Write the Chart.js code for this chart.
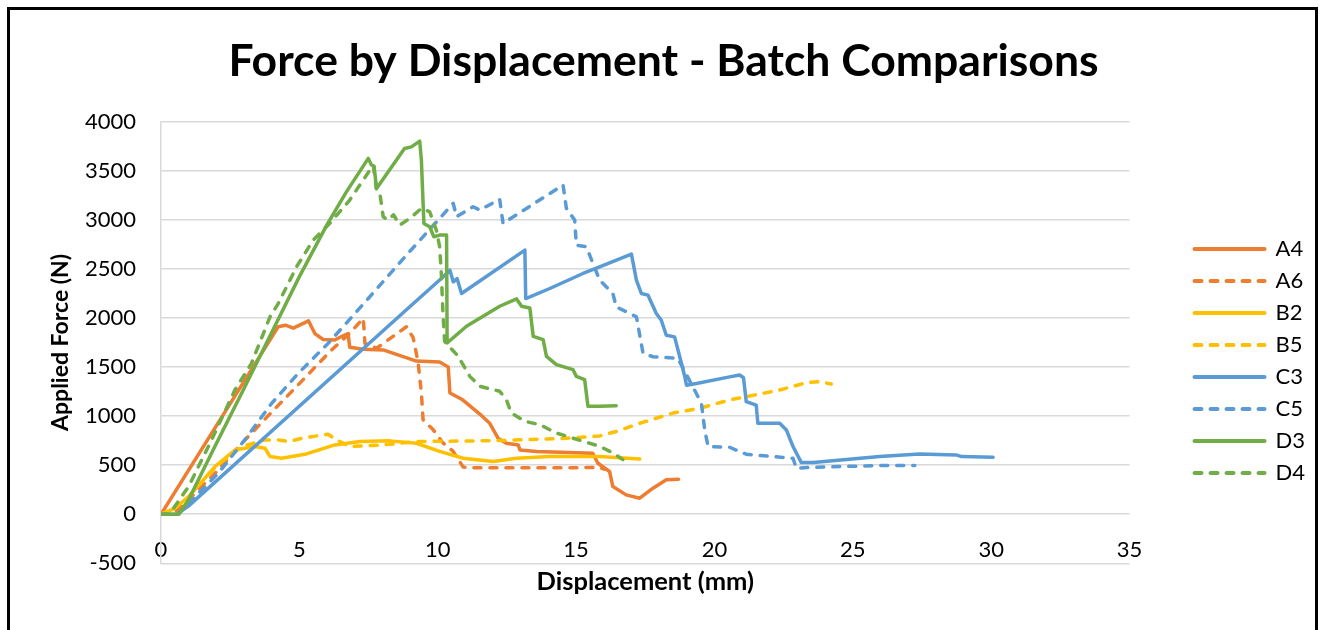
<!DOCTYPE html>
<html>
<head>
<meta charset="utf-8">
<title>Force by Displacement - Batch Comparisons</title>
<script src="https://cdn.jsdelivr.net/npm/chart.js@4.4.1/dist/chart.umd.min.js"></script>
<style>
  html, body { margin: 0; padding: 0; background: #fff; overflow: hidden; }
  #frame { position: absolute; left: 7px; top: 7px; width: 1305px; height: 700px; border: 3px solid #000; }
  #wrap { position: absolute; left: 0; top: 0; width: 1324px; height: 630px; }
</style>
</head>
<body>
<div id="frame"></div>
<div id="wrap"><canvas id="chart" width="1324" height="630"></canvas></div>
<script>
const seriesNames = ["A4", "A6", "B2", "B5", "C3", "C5", "D3", "D4"];
const seriesColors = ["#ED7D31", "#ED7D31", "#FFC000", "#FFC000", "#5B9BD5", "#5B9BD5", "#70AD47", "#70AD47"];
const seriesDashed = [false, true, false, true, false, true, false, true];
const xTicks = [0, 5, 10, 15, 20, 25, 30, 35];
const yTicks = [-500, 0, 500, 1000, 1500, 2000, 2500, 3000, 3500, 4000];

// displacement (mm), force (N)
const a4 = [[0,0],[4.24,1910],[4.5,1925],[4.78,1895],[5.33,1970],[5.56,1840],[5.86,1780],[6.28,1775],[6.52,1810],[6.76,1840],[6.82,1700],[7.31,1680],[8.03,1673],[8.75,1605],[9.23,1560],[10.07,1550],[10.38,1500],[10.44,1235],[10.9,1165],[11.52,1020],[11.88,926],[12.18,774],[12.48,723],[12.91,706],[12.97,655],[13.57,638],[15.6,621],[15.79,519],[16.21,435],[16.33,282],[16.81,197],[17.3,163],[17.78,265],[18.26,350],[18.7,357]];
const a6 = [[0,0],[0.5,20],[1,150],[2,430],[2.97,737],[4,1040],[5,1330],[6.16,1672],[6.82,1843],[7.31,1995],[7.37,1740],[7.79,1690],[8.87,1910],[9.11,1800],[9.29,1550],[9.41,1235],[9.47,963],[9.83,862],[10.19,726],[10.56,640],[10.92,480],[11.4,472],[15.85,475],[16.05,458]];
const b2 = [[0,0],[0.5,60],[1,180],[1.95,484],[2.67,654],[3.39,689],[3.76,672],[3.94,587],[4.36,570],[5.2,610],[6.28,706],[7.19,740],[8.27,747],[9.23,723],[10.07,640],[10.92,570],[12.0,536],[12.85,570],[14.05,587],[15.85,587],[17.3,563]];
const b5 = [[0,0],[0.5,60],[1,180],[2,490],[2.92,689],[3.76,757],[4.24,757],[4.6,740],[5.2,780],[6.04,815],[6.34,757],[6.82,689],[8.03,706],[9.23,740],[12.24,750],[14.65,774],[15.85,797],[16.45,842],[17.3,926],[18.5,1030],[19.47,1079],[20.55,1164],[21.15,1197],[22.36,1265],[23.33,1340],[23.8,1350],[24.22,1326]];
const c3 = [[0,0],[0.57,0],[1,85],[8.99,2113],[10.2,2418],[10.44,2486],[10.56,2367],[10.7,2400],[10.86,2248],[13.15,2690],[13.18,2197],[14.05,2299],[15.25,2452],[15.85,2520],[17.0,2649],[17.18,2384],[17.36,2248],[17.6,2231],[17.9,2044],[18.08,1976],[18.26,1823],[18.56,1806],[18.81,1535],[18.93,1399],[18.99,1314],[19.35,1331],[20.55,1399],[20.91,1418],[21.05,1390],[21.15,1146],[21.51,1112],[21.57,926],[22.36,926],[22.6,858],[22.84,689],[23.14,526],[23.57,526],[25.97,587],[27.41,614],[28.74,604],[28.93,587],[30.07,580]];
const c5 = [[0,0],[0.6,0],[1,110],[2.07,417],[3.03,758],[4,1130],[4.96,1435],[6.04,1740],[7.5,2200],[9,2680],[10.56,3166],[10.68,3030],[11.28,3132],[11.52,3098],[12.24,3207],[12.36,2962],[14.53,3353],[14.65,3115],[14.95,2996],[15.01,2741],[15.37,2724],[15.85,2385],[16.33,2248],[16.45,2113],[17.18,2011],[17.42,1638],[17.78,1604],[18.68,1587],[19.28,1265],[19.53,1129],[19.65,858],[19.77,689],[20.55,682],[20.91,638],[21.15,611],[22.84,570],[22.96,468],[23.57,478],[25.97,496],[27.24,496]];
const d3 = [[0,0],[0.65,0],[1,150],[2,720],[3,1280],[4,1850],[5,2420],[6,2950],[6.7,3283],[7.49,3624],[7.6,3560],[7.7,3545],[7.79,3318],[8.8,3725],[9.05,3742],[9.35,3800],[9.41,3607],[9.5,2962],[9.71,2928],[9.86,2826],[10.07,2843],[10.32,2843],[10.34,1744],[11.04,1914],[12.24,2118],[12.85,2193],[13.03,2118],[13.33,2101],[13.45,1812],[13.81,1778],[13.93,1608],[14.29,1523],[14.89,1472],[15.01,1404],[15.31,1370],[15.43,1099],[15.85,1099],[16.45,1106]];
const d4 = [[0,0],[0.3,0],[1,283],[1.83,758],[2.67,1265],[3.27,1537],[3.94,2011],[4.24,2148],[4.9,2521],[5.5,2792],[6.1,2963],[6.82,3200],[7.55,3505],[7.67,3556],[7.79,3300],[7.91,3267],[8.03,3030],[8.2,2996],[8.4,3050],[8.63,2945],[8.99,3013],[9.41,3115],[9.71,3081],[9.95,2894],[10.07,2724],[10.13,2452],[10.19,2045],[10.25,1760],[10.74,1608],[11.16,1404],[11.52,1303],[12.24,1252],[12.48,1167],[12.66,1031],[13.15,946],[13.69,912],[14.29,827],[15.25,743],[15.85,692],[16.33,624],[16.69,556]];
const seriesData = [a4, a6, b2, b5, c3, c5, d3, d4];

const FONT = "Lato, 'Open Sans', sans-serif";

const datasets = seriesNames.map((name, i) => ({
  label: name,
  data: seriesData[i].map(([x, y]) => ({ x, y })),
  borderColor: seriesColors[i],
  backgroundColor: seriesColors[i],
  borderWidth: 3.5,
  borderDash: seriesDashed[i] ? [7, 9] : [],
  borderCapStyle: "round",
  borderJoinStyle: "round",
  pointRadius: 0,
  showLine: true,
  tension: 0,
  order: seriesNames.length - 1 - i,
}));

function legendLabels(chart) {
  const items = Chart.defaults.plugins.legend.labels.generateLabels(chart);
  items.forEach((item) => {
    item.lineDash = seriesDashed[item.datasetIndex] ? [7, 9] : [];
    item.lineCap = "round";
    item.lineWidth = 4;
  });
  return items;
}

const ctx = document.getElementById("chart");
new Chart(ctx, {
  type: "scatter",
  data: { datasets },
  options: {
    responsive: false,
    devicePixelRatio: 1,
    animation: false,
    layout: { padding: { top: 10, right: 9, bottom: 0, left: 12 } },
    plugins: {
      title: {
        display: true,
        text: "Force by Displacement - Batch Comparisons",
        color: "#000",
        font: { family: FONT, size: 44.5, weight: "bold" },
        padding: { top: 25.3, bottom: 32.8 },
      },
      legend: {
        position: "right",
        align: "start",
        title: { display: true, text: "", font: { size: 10 }, padding: { top: 206, bottom: 0 } },
        labels: {
          usePointStyle: true,
          pointStyle: "line",
          pointStyleWidth: 70,
          padding: 10,
          color: "#000",
          font: { family: FONT, size: 22 },
          generateLabels: legendLabels,
          sort: (a, b) => a.datasetIndex - b.datasetIndex,
        },
      },
      tooltip: { enabled: false },
    },
    scales: {
      x: {
        type: "linear",
        position: "bottom",
        min: xTicks[0],
        max: xTicks[xTicks.length - 1],
        ticks: { display: false },
        grid: { display: false, drawTicks: false },
        border: { display: false },
        title: {
          display: true,
          text: "Displacement (mm)",
          color: "#000",
          font: { family: FONT, size: 25.5, weight: "bold" },
          padding: { top: 0, bottom: 33 },
        },
        afterFit: (scale) => { scale.height = 66.7; },
      },
      xt: {
        type: "linear",
        position: { y: 0 },
        min: xTicks[0],
        max: xTicks[xTicks.length - 1],
        afterBuildTicks: (scale) => { scale.ticks = xTicks.map((v) => ({ value: v })); },
        ticks: { color: "#000", padding: 22, font: { family: FONT, size: 22 } },
        grid: { display: false, drawTicks: false },
        border: { display: false },
      },
      y: {
        type: "linear",
        position: "left",
        min: yTicks[0],
        max: yTicks[yTicks.length - 1],
        afterBuildTicks: (scale) => { scale.ticks = yTicks.map((v) => ({ value: v })); },
        ticks: {
          color: "#000",
          padding: 25,
          font: { family: FONT, size: 22 },
          callback: (value) => String(value),
        },
        grid: { color: "#d9d9d9", lineWidth: 1.5, drawTicks: false },
        border: { display: true, color: "#d9d9d9", width: 1.5 },
        title: {
          display: true,
          text: "Applied Force (N)",
          color: "#000",
          font: { family: FONT, size: 23, weight: "bold" },
          padding: { top: 35, bottom: 0 },
        },
        afterFit: (scale) => { scale.width = 149; },
      },
      yr: {
        type: "linear",
        position: "right",
        ticks: { display: false },
        grid: { display: false, drawTicks: false },
        border: { display: false },
        afterFit: (scale) => { scale.width = 55; },
      },
    },
  },
});
</script>
</body>
</html>
